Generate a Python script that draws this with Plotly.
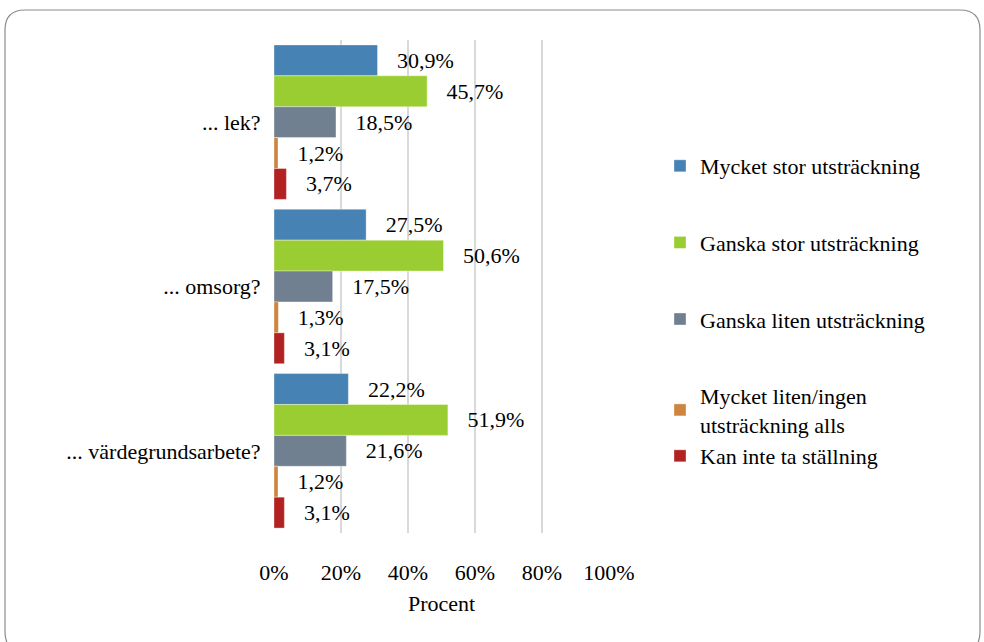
import plotly.graph_objects as go

categories = ["... lek?", "... omsorg?", "... värdegrundsarbete?"]
series_names = [
    "Mycket stor utsträckning",
    "Ganska stor utsträckning",
    "Ganska liten utsträckning",
    "Mycket liten/ingen<br>utsträckning alls",
    "Kan inte ta ställning",
]
mycket_stor = [30.9, 27.5, 22.2]
ganska_stor = [45.7, 50.6, 51.9]
ganska_liten = [18.5, 17.5, 21.6]
mycket_liten = [1.2, 1.3, 1.2]
kan_inte = [3.7, 3.1, 3.1]
x_ticks = [0, 20, 40, 60, 80, 100]
x_tick_labels = ["0%", "20%", "40%", "60%", "80%", "100%"]

series_values = [mycket_stor, ganska_stor, ganska_liten, mycket_liten, kan_inte]
colors = ["steelblue", "yellowgreen", "slategray", "peru", "firebrick"]
groups = ["g0", "g1", "g2", "g3", "g3"]

FONT = "Liberation Serif"
FS = 22
W, H = 984, 642
L, R, T, B = 274, 375, 40, 109
pw, ph = W - L - R, H - T - B

fig = go.Figure()
for name, vals, col, grp in zip(series_names, series_values, colors, groups):
    fig.add_trace(go.Bar(
        y=categories, x=vals, name=name, orientation="h",
        marker=dict(color=col, line=dict(color="rgba(255,255,255,0.6)", width=0.6)),
        text=["\u00a0\u00a0\u00a0" + f"{v:.1f}".replace(".", ",") + "%" for v in vals],
        textposition="outside", cliponaxis=False,
        textfont=dict(family=FONT, size=FS, color="black"),
        legendgroup=grp,
    ))

def px_x(p):
    return (p - L) / pw

def px_y(p):
    return (H - B - p) / ph

# rounded border around the chart
x0, x1, y0, y1, r = 5, 980, 10, 652, 20
path = (
    f"M {px_x(x0 + r)},{px_y(y0)} L {px_x(x1 - r)},{px_y(y0)} "
    f"Q {px_x(x1)},{px_y(y0)} {px_x(x1)},{px_y(y0 + r)} "
    f"L {px_x(x1)},{px_y(y1 - r)} Q {px_x(x1)},{px_y(y1)} {px_x(x1 - r)},{px_y(y1)} "
    f"L {px_x(x0 + r)},{px_y(y1)} Q {px_x(x0)},{px_y(y1)} {px_x(x0)},{px_y(y1 - r)} "
    f"L {px_x(x0)},{px_y(y0 + r)} Q {px_x(x0)},{px_y(y0)} {px_x(x0 + r)},{px_y(y0)} Z"
)

fig.update_layout(
    width=W, height=H,
    margin=dict(l=L, r=R, t=T, b=B, autoexpand=False),
    paper_bgcolor="white", plot_bgcolor="white",
    barmode="group", bargap=0.06, bargroupgap=0,
    font=dict(family=FONT, size=FS, color="black"),
    xaxis=dict(
        range=[0, 100], tickvals=x_ticks, ticktext=x_tick_labels,
        showgrid=True, gridcolor="#d9d9d9", gridwidth=1.5,
        zeroline=False, showline=False,
        ticks="outside", ticklen=20, tickcolor="rgba(0,0,0,0)",
        automargin=False,
        tickfont=dict(family=FONT, size=FS, color="black"),
        title=dict(text="Procent", font=dict(family=FONT, size=FS, color="black"), standoff=11),
    ),
    yaxis=dict(
        autorange="reversed", showgrid=False, zeroline=False, showline=False,
        ticks="outside", ticklen=8, tickcolor="rgba(0,0,0,0)",
        automargin=False,
        tickfont=dict(family=FONT, size=FS, color="black"),
    ),
    legend=dict(
        x=px_x(660), y=px_y(145), xanchor="left", yanchor="top",
        font=dict(family=FONT, size=FS, color="black"),
        tracegroupgap=45, traceorder="grouped",
        bgcolor="rgba(0,0,0,0)",
    ),
    shapes=[dict(type="path", path=path, xref="paper", yref="paper",
                 line=dict(color="#8c8c8c", width=1.2), layer="below")],
)

post = (
    "document.body.style.margin='0';"
    "var s=document.createElement('style');"
    "s.textContent='.js-plotly-plot text{font-family:\"Liberation Serif\",serif !important;}';"
    "document.head.appendChild(s);"
)
fig.write_html("out.html", config={"displayModeBar": False}, post_script=post)
